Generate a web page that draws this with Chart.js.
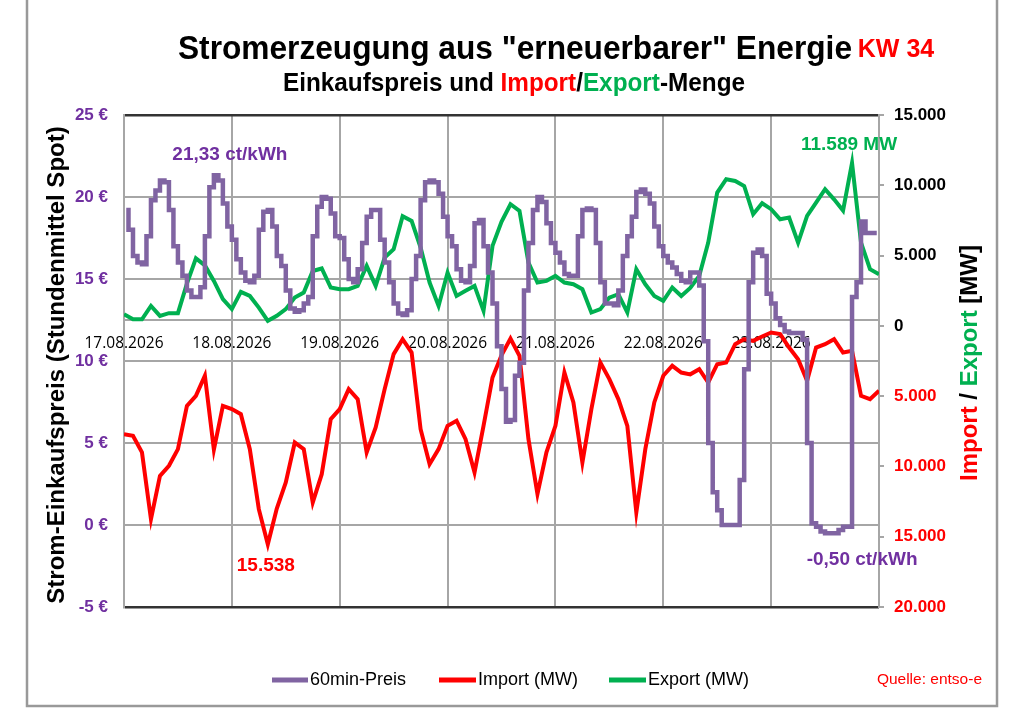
<!DOCTYPE html>
<html>
<head>
<meta charset="utf-8">
<script src="https://cdn.jsdelivr.net/npm/chart.js@4.4.1/dist/chart.umd.min.js"></script>
<style>
  html, body { margin: 0; padding: 0; background: #fff; }
  #wrap { width: 1024px; height: 724px; }
</style>
</head>
<body>
<div id="wrap"><canvas id="kw34" width="1024" height="724"></canvas></div>
<script>
// Tageslabels (je 24 h)
var dayLabels = ['17.08.2026', '18.08.2026', '19.08.2026', '20.08.2026', '21.08.2026', '22.08.2026', '23.08.2026'];

// 60min-Preis in ct/kWh, Stunde 0..167
var price60 = [
  19.2, 18.0, 16.4, 16.0, 15.9, 17.6, 19.8, 20.4, 21.0, 20.9,
  19.2, 17.0, 16.0, 15.2, 14.3, 13.9, 13.9, 14.5, 17.6, 20.6,
  21.33, 21.0, 19.6, 18.2, 17.4, 16.2, 15.4, 14.9, 14.8, 15.2,
  18.0, 19.1, 19.2, 18.2, 16.4, 15.8, 14.3, 13.2, 13.0, 13.1,
  13.5, 13.9, 17.6, 19.4, 20.0, 19.9, 19.0, 17.6, 17.5, 16.2,
  15.0, 14.8, 15.6, 17.2, 18.8, 19.2, 19.2, 17.4, 16.0, 14.8,
  13.5, 12.9, 12.8, 13.1, 15.0, 16.4, 19.8, 20.9, 21.0, 20.9,
  20.2, 18.8, 17.6, 17.0, 15.6, 14.9, 14.8, 15.8, 18.4, 18.6,
  17.0, 15.4, 13.5, 10.9, 8.3, 6.3, 6.4, 9.1, 9.9, 14.3,
  17.2, 19.2, 20.0, 19.7, 18.4, 17.2, 16.6, 16.0, 15.3, 15.2,
  15.2, 17.6, 19.2, 19.3, 19.2, 17.2, 14.8, 13.5, 13.5, 13.4,
  14.3, 16.4, 17.6, 18.8, 20.3, 20.45, 20.2, 19.6, 18.2, 17.0,
  16.4, 16.0, 15.7, 15.3, 14.9, 14.8, 15.4, 15.4, 14.6, 11.2,
  5.0, 2.0, 0.9, 0.0, 0.0, 0.0, 0.0, 2.75, 9.5, 14.8,
  16.6, 16.8, 16.4, 14.1, 13.5, 12.6, 12.2, 11.8, 11.7, 11.7,
  11.7, 11.3, 5.0, 0.1, -0.1, -0.4, -0.5, -0.5, -0.5, -0.3,
  -0.1, -0.1, 13.9, 14.8, 18.5, 17.8, 17.8, 17.8
];

// Export in MW, alle 2 Stunden (0..168)
var exportMW = [
  830, 470, 470, 1420, 710, 900, 900, 3000, 4800, 4300, 3200, 1900, 1190, 2420, 2130, 1300, 360, 710, 1190, 2010, 2370, 3900,
  4080, 2730, 2610, 2610, 2840, 4270, 2840, 4860, 5450, 7800, 7470, 5570, 3080, 1420, 3790, 2130, 2490, 2840, 1070, 5690, 7400,
  8650, 8180, 4500, 3080, 3200, 3550, 3080, 2960, 2610, 950, 1190, 2010, 2250, 950, 4030, 2960, 2130, 1780, 2730, 2130, 2700,
  3550, 5920, 9480, 10430, 10310, 9950, 7940, 8720, 8300, 7580, 7700, 5920, 7820, 8770, 9720, 9000, 8200, 11589, 5920, 4030, 3670
];

// Import in MW, alle 2 Stunden (0..168)
var importMW = [
  7700, 7820, 9000, 13750, 10670, 9950, 8770, 5690, 4980, 3550, 8800, 5690, 5920, 6280, 8770, 13040, 15538, 13000, 11140, 8300, 8770, 12560,
  10550, 6640, 5920, 4500, 5210, 9000, 7230, 4500, 2010, 950, 1900, 7350, 9840, 8770, 7110, 6750, 8060, 10430, 7110, 3670, 2100,
  900, 2130, 8060, 11970, 9000, 7110, 3320, 5450, 9720, 5920, 2610, 3790, 5210, 7110, 13270, 8770, 5450, 3550, 2840, 3320, 3450,
  3080, 4030, 2730, 2610, 1300, 950, 1070, 760, 470, 590, 1540, 2370, 3910, 1540, 1300, 950, 1900, 1780, 4980, 5210, 4620
];

var PURPLE = '#8064A2', PURPLE_TXT = '#7030A0', RED = '#FF0000', GREEN = '#00B050';
var SANS = '"Liberation Sans", Arial, sans-serif';

function fmtMW(v) {
  return Math.abs(v).toString().replace(/\B(?=(\d{3})+(?!\d))/g, '.');
}

// mehrfarbigen Text zeichnen, zentriert um x, optional auf Breite gestaucht
function drawParts(ctx, parts, font, x, y, fitWidth) {
  ctx.font = font;
  var total = 0;
  parts.forEach(function (p) { total += ctx.measureText(p[0]).width; });
  var sx = 1;
  if (fitWidth && total > fitWidth) sx = fitWidth / total;
  ctx.save();
  ctx.translate(x, y);
  ctx.scale(sx, 1);
  var cx = -total / 2;
  ctx.textAlign = 'left';
  parts.forEach(function (p) {
    ctx.fillStyle = p[1];
    ctx.fillText(p[0], cx, 0);
    cx += ctx.measureText(p[0]).width;
  });
  ctx.restore();
}

var decor = {
  id: 'decor',
  beforeDraw: function (chart) {
    var ctx = chart.ctx;
    ctx.save();
    ctx.fillStyle = '#fff';
    ctx.fillRect(0, 0, chart.width, chart.height);
    ctx.strokeStyle = '#999';
    ctx.lineWidth = 2.5;
    ctx.strokeRect(27, -5, 970, 711);
    ctx.restore();
  },
  afterDraw: function (chart) {
    var ctx = chart.ctx;
    var sx = chart.scales.x, sy = chart.scales.y, s1 = chart.scales.y1;
    var narrow = '"Liberation Sans Narrow", ' + SANS;
    ctx.save();
    ctx.textBaseline = 'alphabetic';

    // Titel
    drawParts(ctx, [['Stromerzeugung aus "erneuerbarer" Energie', '#000']], 'bold 34px ' + narrow, 515, 59, 674);
    drawParts(ctx, [['KW 34', RED]], 'bold 25px ' + narrow, 896, 57, 77);
    drawParts(ctx, [['Einkaufspreis und ', '#000'], ['Import', RED], ['/', '#000'], ['Export', GREEN], ['-Menge', '#000']],
      'bold 25px ' + narrow, 514, 91, 462);

    // Achsentitel
    ctx.textBaseline = 'middle';
    ctx.save();
    ctx.translate(57, 365);
    ctx.rotate(-Math.PI / 2);
    drawParts(ctx, [['Strom-Einkaufspreis (Stundenmittel Spot)', '#000']], 'bold 24px ' + SANS, 0, 0, 484);
    ctx.restore();
    ctx.save();
    ctx.translate(970, 363);
    ctx.rotate(-Math.PI / 2);
    drawParts(ctx, [['Import', RED], [' / ', '#000'], ['Export', GREEN], [' [MW]', '#000']], 'bold 24px ' + SANS, 0, 0, 240);
    ctx.restore();

    // Extremwerte
    var bold19 = 'bold 19px ' + SANS;
    var iMax = price60.indexOf(Math.max.apply(null, price60));
    var iMin = price60.indexOf(Math.min.apply(null, price60));
    var eMax = exportMW.indexOf(Math.max.apply(null, exportMW));
    var imMax = importMW.indexOf(Math.max.apply(null, importMW));
    drawParts(ctx, [[price60[iMax].toFixed(2).replace('.', ',') + ' ct/kWh', PURPLE_TXT]], bold19,
      sx.getPixelForValue(iMax) + 16, sy.getPixelForValue(price60[iMax]) - 20);
    drawParts(ctx, [[price60[iMin].toFixed(2).replace('.', ',') + ' ct/kWh', PURPLE_TXT]], bold19,
      sx.getPixelForValue(iMin) + 37, sy.getPixelForValue(price60[iMin]) + 27);
    drawParts(ctx, [[fmtMW(exportMW[eMax]) + ' MW', GREEN]], bold19,
      sx.getPixelForValue(eMax * 2) - 3, s1.getPixelForValue(exportMW[eMax]) - 18);
    drawParts(ctx, [[fmtMW(importMW[imMax]), RED]], bold19,
      sx.getPixelForValue(imMax * 2) - 2, s1.getPixelForValue(-importMW[imMax]) + 21);

    // Legende
    ctx.font = '18px ' + SANS;
    ctx.textAlign = 'left';
    var items = [[272, 36], [439, 37], [609, 37]];
    chart.data.datasets.forEach(function (ds, i) {
      ctx.strokeStyle = ds.borderColor;
      ctx.lineWidth = 5;
      ctx.beginPath();
      ctx.moveTo(items[i][0], 680);
      ctx.lineTo(items[i][0] + items[i][1], 680);
      ctx.stroke();
      ctx.fillStyle = '#000';
      ctx.fillText(ds.label, items[i][0] + items[i][1] + 2, 680);
    });
    ctx.fillStyle = RED;
    ctx.font = '15.5px ' + SANS;
    ctx.textAlign = 'right';
    ctx.fillText('Quelle: entso-e', 982, 680);
    ctx.restore();
  }
};

var ctx = document.getElementById('kw34').getContext('2d');
var chart = new Chart(ctx, {
  type: 'line',
  data: {
    datasets: [{
      label: '60min-Preis',
      data: price60.map(function (v, i) { return { x: i + 0.5, y: v }; }),
      yAxisID: 'y',
      borderColor: PURPLE,
      borderWidth: 4.5,
      stepped: 'middle',
      pointRadius: 0
    }, {
      label: 'Import (MW)',
      data: importMW.map(function (v, i) { return { x: i * 2, y: -v }; }),
      yAxisID: 'y1',
      borderColor: RED,
      borderWidth: 4,
      pointRadius: 0,
      tension: 0
    }, {
      label: 'Export (MW)',
      data: exportMW.map(function (v, i) { return { x: i * 2, y: v }; }),
      yAxisID: 'y1',
      borderColor: GREEN,
      borderWidth: 4,
      pointRadius: 0,
      tension: 0
    }]
  },
  options: {
    responsive: false,
    animation: false,
    devicePixelRatio: 1,
    layout: { padding: { left: 0, right: 0, top: 115, bottom: 117 } },
    plugins: { legend: { display: false }, tooltip: { enabled: false } },
    scales: {
      x: {
        type: 'linear',
        min: 0,
        max: 168,
        position: { y: 12.5 },
        grid: { color: '#a6a6a6', lineWidth: 2, drawTicks: false },
        border: { color: '#a6a6a6', width: 2 },
        ticks: {
          stepSize: 24,
          autoSkip: false,
          maxRotation: 0,
          padding: 14,
          color: '#000',
          font: { family: '"Open Sans", sans-serif', size: 15.5 },
          callback: function (v) { return dayLabels[v / 24] || ''; }
        }
      },
      y: {
        position: 'left',
        min: -5,
        max: 25,
        afterFit: function (s) { s.width = 124; },
        grid: {
          drawTicks: false,
          color: function (c) { return (c.tick.value === 25 || c.tick.value === -5) ? '#333' : '#a6a6a6'; },
          lineWidth: function (c) { return (c.tick.value === 25 || c.tick.value === -5) ? 2.5 : 2; }
        },
        border: { color: '#a6a6a6', width: 2 },
        ticks: {
          stepSize: 5,
          padding: 16,
          color: PURPLE_TXT,
          font: { family: SANS, size: 17, weight: 'bold' },
          callback: function (v) { return v + ' €'; }
        }
      },
      y1: {
        position: 'right',
        min: -20000,
        max: 15000,
        afterFit: function (s) { s.width = 145; },
        grid: { drawOnChartArea: false, tickLength: 5, color: '#a6a6a6', lineWidth: 2 },
        border: { color: '#a6a6a6', width: 2 },
        ticks: {
          stepSize: 5000,
          padding: 10,
          color: function (c) { return c.tick.value < 0 ? RED : '#000'; },
          font: { family: SANS, size: 17, weight: 'bold' },
          callback: function (v) { return fmtMW(v); }
        }
      }
    }
  },
  plugins: [decor]
});
</script>
</body>
</html>
